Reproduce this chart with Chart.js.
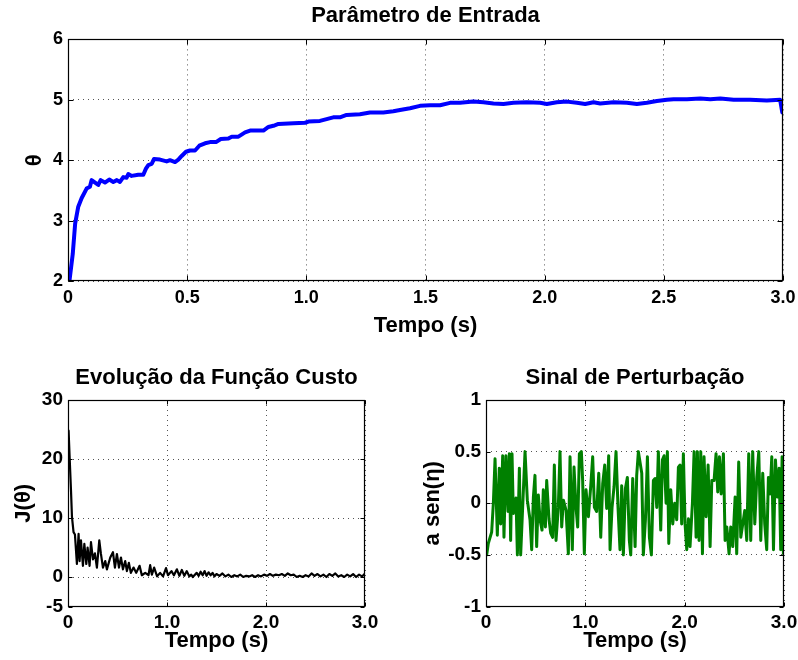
<!DOCTYPE html>
<html><head><meta charset="utf-8">
<script src="https://cdn.jsdelivr.net/npm/chart.js@4.4.0/dist/chart.umd.min.js"></script>
<style>
html,body{margin:0;padding:0;background:#fff;width:798px;height:660px;overflow:hidden;position:relative}
canvas{position:absolute}
</style></head><body>
<canvas id="c1" width="798" height="345" style="left:0;top:0"></canvas>
<canvas id="c2" width="400" height="315" style="left:0;top:345px"></canvas>
<canvas id="c3" width="398" height="315" style="left:400px;top:345px"></canvas>
<script>
// ---------- data ----------
const thetaTime = [0.006,0.02,0.03,0.043,0.057,0.078,0.092,0.099,0.127,0.137,0.155,0.173,0.19,0.205,0.218,0.232,0.246,0.253,0.267,0.295,0.316,0.327,0.337,0.351,0.361,0.386,0.414,0.428,0.449,0.463,0.477,0.495,0.512,0.533,0.551,0.575,0.596,0.621,0.641,0.673,0.687,0.715,0.743,0.764,0.82,0.841,0.862,0.883,0.946,0.995,1.009,1.057,1.085,1.113,1.141,1.169,1.225,1.267,1.323,1.365,1.393,1.435,1.477,1.519,1.561,1.603,1.645,1.701,1.743,1.785,1.827,1.869,1.925,1.981,2.009,2.051,2.093,2.135,2.17,2.205,2.233,2.289,2.345,2.387,2.429,2.471,2.513,2.541,2.597,2.653,2.695,2.737,2.793,2.862,2.932,2.988,2.997];
const thetaValues = [2.0,2.45,2.95,3.23,3.37,3.53,3.56,3.67,3.59,3.67,3.63,3.68,3.64,3.67,3.64,3.72,3.71,3.77,3.74,3.76,3.76,3.86,3.92,3.94,4.02,4.01,3.98,4.0,3.97,4.01,4.07,4.14,4.16,4.16,4.24,4.28,4.30,4.30,4.35,4.36,4.39,4.39,4.46,4.49,4.49,4.55,4.57,4.60,4.61,4.62,4.64,4.65,4.68,4.71,4.71,4.75,4.76,4.79,4.79,4.81,4.83,4.86,4.90,4.91,4.91,4.95,4.95,4.97,4.96,4.94,4.93,4.95,4.96,4.95,4.93,4.96,4.97,4.95,4.93,4.96,4.94,4.96,4.95,4.93,4.95,4.98,5.00,5.01,5.01,5.02,5.01,5.02,5.00,5.00,4.99,5.00,4.79];

const costTime = [0.006,0.016,0.03,0.04,0.056,0.07,0.09,0.107,0.117,0.131,0.151,0.165,0.185,0.198,0.218,0.232,0.252,0.272,0.292,0.316,0.332,0.353,0.376,0.393,0.427,0.454,0.474,0.494,0.515,0.535,0.555,0.578,0.595,0.615,0.635,0.662,0.689,0.723,0.746,0.78,0.813,0.83,0.847,0.87,0.9,0.93,0.96,0.99,1.01,1.045,1.07,1.1,1.125,1.15,1.175,1.2,1.225,1.245,1.26,1.30,1.32,1.34,1.36,1.38,1.40,1.42,1.44,1.46,1.48,1.50,1.53,1.56,1.59,1.62,1.65,1.68,1.71,1.74,1.77,1.80,1.83,1.86,1.89,1.92,1.95,1.98,2.01,2.04,2.07,2.10,2.13,2.16,2.19,2.22,2.25,2.28,2.31,2.34,2.37,2.40,2.43,2.46,2.49,2.52,2.55,2.58,2.61,2.64,2.67,2.70,2.73,2.76,2.79,2.82,2.85,2.88,2.91,2.94,2.97,3.00];
const costValues = [24.8,20.5,14.8,10.2,7.6,7.2,2.2,7.3,2.7,6.2,1.9,5.6,2.2,5.0,1.9,5.9,3.0,4.0,1.6,6.2,4.0,1.6,2.7,1.3,3.3,4.2,1.6,3.9,1.6,3.3,1.3,2.7,1.0,2.4,0.7,1.6,0.7,1.9,0.3,0.7,0.3,2.0,0.4,1.6,0.1,0.7,0.1,1.5,0.3,1.0,0.3,1.3,0.2,1.2,0.2,1.0,0.1,0.4,0.0,0.7,0.2,0.9,0.3,1.0,0.2,0.8,0.3,0.7,0.1,0.5,0.2,0.6,0.1,0.4,0.0,0.3,0.1,0.4,0.0,0.2,0.1,0.3,0.0,0.3,0.1,0.4,0.2,0.5,0.2,0.4,0.3,0.5,0.2,0.6,0.3,0.4,0.0,0.2,0.0,0.3,0.1,0.6,0.2,0.5,0.1,0.4,0.0,0.5,0.2,0.6,0.1,0.3,0.0,0.4,0.1,0.5,0.0,0.4,0.1,0.6];

const noiseTime = [0.007,0.023,0.057,0.074,0.091,0.114,0.134,0.148,0.168,0.181,0.201,0.222,0.235,0.248,0.262,0.275,0.302,0.316,0.336,0.349,0.369,0.393,0.416,0.443,0.46,0.477,0.493,0.51,0.527,0.544,0.564,0.577,0.598,0.611,0.634,0.651,0.671,0.688,0.705,0.728,0.745,0.762,0.779,0.806,0.829,0.846,0.869,0.886,0.906,0.923,0.94,0.96,0.973,0.99,1.007,1.031,1.054,1.074,1.091,1.114,1.135,1.155,1.175,1.195,1.215,1.235,1.249,1.269,1.289,1.309,1.329,1.349,1.366,1.383,1.403,1.423,1.443,1.457,1.477,1.501,1.517,1.534,1.568,1.584,1.605,1.625,1.645,1.665,1.685,1.702,1.719,1.735,1.759,1.776,1.793,1.813,1.826,1.84,1.86,1.88,1.9,1.92,1.937,1.954,1.97,1.987,2.004,2.021,2.038,2.054,2.078,2.095,2.115,2.128,2.145,2.162,2.179,2.195,2.216,2.236,2.256,2.273,2.296,2.316,2.333,2.35,2.367,2.39,2.407,2.424,2.447,2.464,2.484,2.508,2.524,2.544,2.565,2.585,2.605,2.625,2.645,2.665,2.685,2.706,2.726,2.746,2.766,2.786,2.806,2.826,2.843,2.86,2.877,2.894,2.914,2.934,2.951,2.967,2.981,2.994];
const noiseValues = [-0.5,-0.39,-0.28,0,0.43,-0.31,0.34,-0.2,0.46,-0.33,0.46,-0.08,0.48,-0.36,0.48,-0.1,0.05,-0.5,0.34,-0.5,-0.04,0.5,0.03,-0.16,-0.45,0.06,0.27,-0.42,0.08,-0.16,-0.26,0.13,-0.23,0.22,-0.15,-0.29,-0.33,0.37,-0.36,-0.04,0.5,-0.23,0.03,-0.07,-0.49,0.45,-0.45,0.35,-0.04,-0.23,0.48,0.5,0.22,-0.49,0.13,-0.13,0.16,0.45,-0.04,-0.08,0.29,-0.33,0.19,0.37,-0.05,0.46,-0.45,-0.04,0.16,0.5,-0.04,-0.45,0.17,-0.5,0.14,0.25,-0.36,-0.5,0.24,-0.42,0.27,0.5,0.29,-0.5,-0.16,0.45,-0.33,-0.5,0.22,0.24,-0.04,0.5,-0.26,0.42,0.46,0,0.5,-0.39,0.13,-0.2,0,-0.16,0.35,0.37,-0.2,0.48,-0.2,-0.45,-0.15,-0.42,0,0.5,-0.33,0.5,-0.36,0.5,-0.49,0.45,-0.13,0.37,-0.42,0.22,0.22,0.48,0.11,0.45,0.09,0.48,-0.36,-0.23,-0.49,-0.23,-0.42,0.06,-0.49,0.4,-0.33,-0.2,-0.07,-0.36,0.48,-0.36,0.5,-0.2,0.25,0.5,-0.36,0.29,-0.2,-0.45,0.25,0.09,0.45,-0.45,0.42,0.06,0.34,-0.45,0.45,-0.49];

const topXTicks = [0,0.5,1,1.5,2,2.5,3];
const bottomXTicks = [0,1,2,3];
const thetaYTicks = [2,3,4,5,6];
const costYTicks = [-5,0,10,20,30];
const noiseYTicks = [-1,-0.5,0,0.5,1];

const topTitle = 'Parâmetro de Entrada';
const costTitle = 'Evolução da Função Custo';
const noiseTitle = 'Sinal de Perturbação';
const xAxisTitle = 'Tempo (s)';
const thetaAxisTitle = 'θ';
const costAxisTitle = 'J(θ)';
const noiseAxisTitle = 'a sen(η)';

// ---------- drawing ----------
const FAMILY = "'Liberation Sans', Arial, Helvetica, sans-serif";
const xFmt = v => v === 0 ? '0' : Number(v).toFixed(1);
const yFmt = v => String(v);

const framePlugin = {
  id: 'frame',
  afterDatasetsDraw(chart, args, opts) {
    const {ctx, chartArea: a} = chart;
    const L = Math.round(a.left) + 0.5, R = Math.round(a.right) - 0.5;
    const T = Math.round(a.top) + 0.5, B = Math.round(a.bottom) - 0.5;
    ctx.save();
    ctx.strokeStyle = '#000';
    ctx.lineWidth = 1;
    ctx.beginPath();
    const len = opts.len || 5;
    const xs = chart.scales.x, ys = chart.scales.y;
    xs.ticks.forEach(t => {
      const p = Math.round(xs.getPixelForValue(t.value)) + 0.5;
      ctx.moveTo(p, B); ctx.lineTo(p, B - len);
      ctx.moveTo(p, T); ctx.lineTo(p, T + len);
    });
    ys.ticks.forEach(t => {
      const p = Math.round(ys.getPixelForValue(t.value)) + 0.5;
      ctx.moveTo(L, p); ctx.lineTo(L + len, p);
      ctx.moveTo(R, p); ctx.lineTo(R - len, p);
    });
    ctx.stroke();
    ctx.lineWidth = 1.2;
    ctx.strokeRect(L, T, R - L, B - T);
    ctx.restore();
  }
};

function makeChart(id, c) {
  const data = c.xs.map((x, i) => ({x, y: c.ys[i]}));
  const tickFont = {family: FAMILY, size: c.tickSize, weight: 'bold'};
  const titleFont = {family: FAMILY, size: 22, weight: 'bold'};
  return new Chart(document.getElementById(id), {
    type: 'line',
    data: {datasets: [{data, borderColor: c.color, borderWidth: c.width, pointRadius: 0, tension: 0, fill: false,
                       borderJoinStyle: 'round', borderCapStyle: 'round'}]},
    plugins: [framePlugin],
    options: {
      responsive: false, animation: false, devicePixelRatio: 1,
      layout: {padding: {left: 0, top: 0, bottom: 0, right: c.padRight}},
      plugins: {
        legend: {display: false}, tooltip: {enabled: false},
        title: {display: true, text: c.title, color: '#000', font: titleFont, fullSize: false,
                padding: {top: c.titleTop, bottom: c.titleBottom}},
        frame: {len: c.tickLen}
      },
      scales: {
        x: {
          type: 'linear', min: c.xMin, max: c.xMax,
          afterBuildTicks: s => { s.ticks = c.xTicks.map(v => ({value: v})); },
          afterFit: s => { s.height = c.xAxisH; s.paddingLeft = 0; s.paddingRight = 0; },
          ticks: {color: '#000', font: tickFont, padding: c.xTickPad, maxRotation: 0, autoSkip: false, callback: xFmt},
          grid: {color: '#555', lineWidth: 1, drawTicks: false},
          border: {display: false, dash: [1, 4]},
          title: {display: true, text: xAxisTitle, color: '#000', font: titleFont, padding: {top: 0, bottom: c.xTitleBottom}}
        },
        y: {
          type: 'linear', min: c.yMin, max: c.yMax,
          afterBuildTicks: s => { s.ticks = c.yTicks.map(v => ({value: v})); },
          afterFit: s => { s.width = c.yAxisW; s.paddingTop = 0; s.paddingBottom = 0; },
          ticks: {color: '#000', font: tickFont, padding: c.yTickPad, autoSkip: false, callback: yFmt},
          grid: {color: '#555', lineWidth: 1, drawTicks: false},
          border: {display: false, dash: [1, 4]},
          title: {display: true, text: c.yTitle, color: '#000', font: titleFont, padding: {top: c.yTitlePad, bottom: 0}}
        }
      }
    }
  });
}

makeChart('c1', {
  xs: thetaTime, ys: thetaValues, color: '#0000ff', width: 4,
  xMin: 0, xMax: 3, yMin: 2, yMax: 6, xTicks: topXTicks, yTicks: thetaYTicks,
  title: topTitle, yTitle: thetaAxisTitle,
  tickSize: 18, titleTop: 3, titleBottom: 10, yAxisW: 68, yTitlePad: 21.3, yTickPad: 5,
  xAxisH: 64, xTickPad: 6.5, xTitleBottom: 6, padRight: 15, tickLen: 5
});
makeChart('c2', {
  xs: costTime, ys: costValues, color: '#000000', width: 2.2,
  xMin: 0, xMax: 3, yMin: -5, yMax: 30, xTicks: bottomXTicks, yTicks: costYTicks,
  title: costTitle, yTitle: costAxisTitle,
  tickSize: 19, titleTop: 19.8, titleBottom: 8.8, yAxisW: 68, yTitlePad: 11, yTickPad: 5,
  xAxisH: 53.5, xTickPad: 4.6, xTitleBottom: 6, padRight: 35, tickLen: 4
});
makeChart('c3', {
  xs: noiseTime, ys: noiseValues, color: '#008000', width: 3,
  xMin: 0, xMax: 3, yMin: -1, yMax: 1, xTicks: bottomXTicks, yTicks: noiseYTicks,
  title: noiseTitle, yTitle: noiseAxisTitle,
  tickSize: 19, titleTop: 19.8, titleBottom: 8.8, yAxisW: 86, yTitlePad: 19.8, yTickPad: 5,
  xAxisH: 53.5, xTickPad: 4.6, xTitleBottom: 6, padRight: 14, tickLen: 4
});
</script>
</body></html>
